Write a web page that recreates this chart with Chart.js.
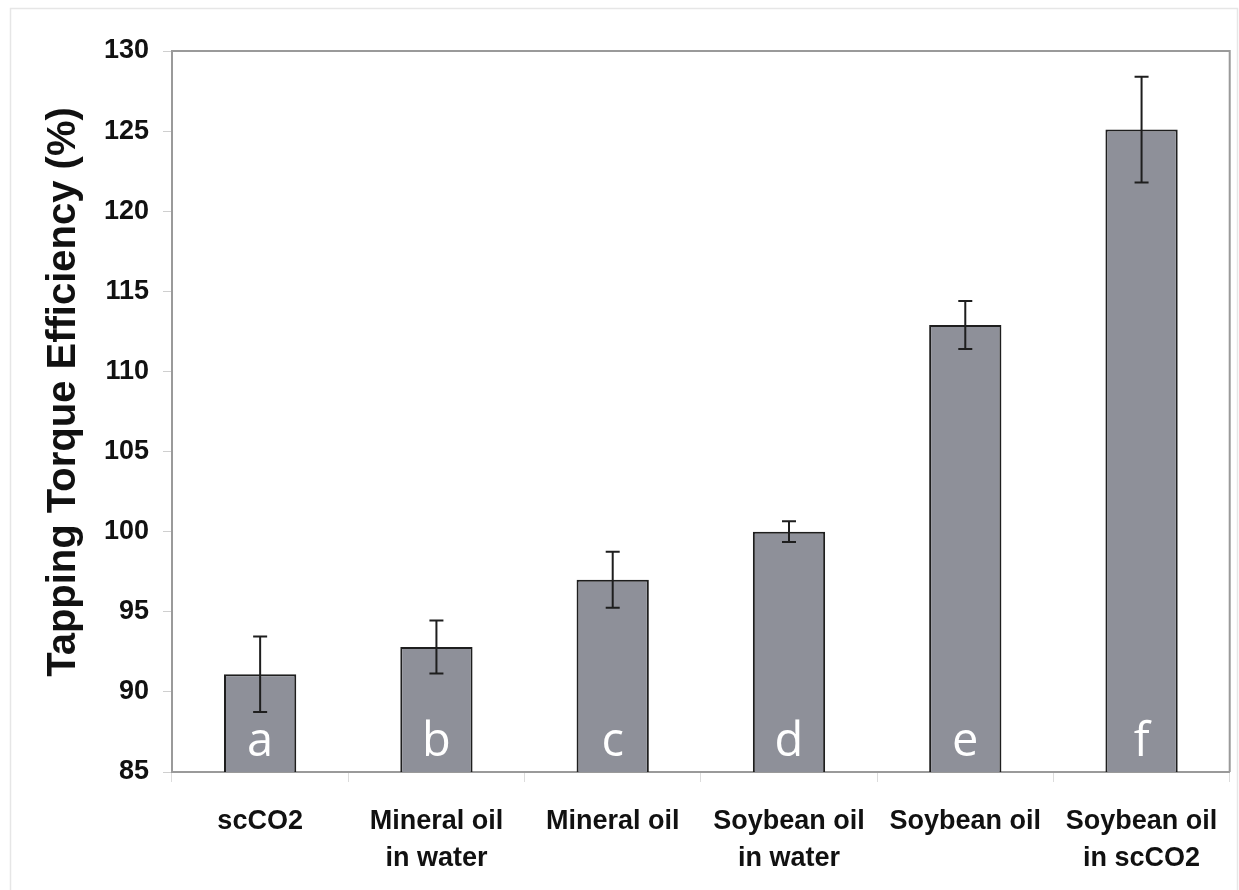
<!DOCTYPE html>
<html>
<head>
<meta charset="utf-8">
<script src="https://cdn.jsdelivr.net/npm/chart.js@4/dist/chart.umd.min.js"></script>
<style>
  html, body { margin: 0; padding: 0; background: #fff; }
  #wrap { width: 1239px; height: 890px; position: relative; }
</style>
</head>
<body>
<div id="wrap"><canvas id="torqueChart" width="1239" height="890"></canvas></div>
<script>
// data
const categories = [
    ["scCO2"],
    ["Mineral oil", "in water"],
    ["Mineral oil"],
    ["Soybean oil", "in water"],
    ["Soybean oil"],
    ["Soybean oil", "in scCO2"]
];
const efficiency = [91.1, 92.8, 97.0, 100.0, 112.9, 125.1];
const errorBars = [2.35, 1.65, 1.75, 0.65, 1.5, 3.3];
const groupLetters = ["a", "b", "c", "d", "e", "f"];
const yTicks = [85, 90, 95, 100, 105, 110, 115, 120, 125, 130];
const yTitle = "Tapping Torque Efficiency (%)";

/* frame around the figure, y title, top/right border of plot area */
const framePlugin = {
    id: "frame",
    beforeDraw(chart) {
        const { ctx } = chart;
        ctx.save();
        ctx.strokeStyle = "#e6e6e6";
        ctx.lineWidth = 1.5;
        ctx.strokeRect(10.5, 8.5, 1227, 900);
        ctx.restore();
    },
    afterDraw(chart) {
        const { ctx, chartArea: a } = chart;
        ctx.save();
        ctx.strokeStyle = "#9a9a9a";
        ctx.lineWidth = 2;
        ctx.beginPath();
        ctx.moveTo(a.left, a.top);
        ctx.lineTo(a.right, a.top);
        ctx.lineTo(a.right, a.bottom);
        ctx.stroke();

        // axis title, sits a bit above the plot's middle like the original
        ctx.translate(64, 392);
        ctx.rotate(-Math.PI / 2);
        ctx.fillStyle = "#111";
        ctx.font = "bold 40px 'Liberation Sans', Arial";
        ctx.textAlign = "center";
        ctx.textBaseline = "middle";
        ctx.fillText(yTitle, 0, 0);
        ctx.restore();
    }
};

/* error bars and the white letters in the bars */
const errorPlugin = {
    id: "errors",
    afterDatasetsDraw(chart) {
        const { ctx, chartArea: a } = chart;
        const y = chart.scales.y;
        const bars = chart.getDatasetMeta(0).data;
        ctx.save();
        bars.forEach((bar, i) => {
            ctx.fillStyle = "#ffffff";
            ctx.font = "47px 'Open Sans'";
            ctx.textAlign = "center";
            ctx.textBaseline = "alphabetic";
            ctx.fillText(groupLetters[i], bar.x, a.bottom - 16);

            const hi = y.getPixelForValue(efficiency[i] + errorBars[i]);
            const lo = y.getPixelForValue(efficiency[i] - errorBars[i]);
            ctx.strokeStyle = "#1e1e1e";
            ctx.lineWidth = 2;
            ctx.beginPath();
            ctx.moveTo(bar.x, hi); ctx.lineTo(bar.x, lo);
            ctx.moveTo(bar.x - 7, hi); ctx.lineTo(bar.x + 7, hi);
            ctx.moveTo(bar.x - 7, lo); ctx.lineTo(bar.x + 7, lo);
            ctx.stroke();
        });
        ctx.restore();
    }
};

new Chart(document.getElementById("torqueChart"), {
    type: "bar",
    data: {
        labels: categories,
        datasets: [{
            data: efficiency,
            backgroundColor: "#8e9099",
            borderColor: "#1e1e1e",
            borderWidth: 2,
            borderSkipped: false,
            categoryPercentage: 1,
            barPercentage: 0.41
        }]
    },
    options: {
        responsive: false,
        animation: false,
        devicePixelRatio: 1,
        layout: { padding: { left: 10, top: 51, right: 8, bottom: 0 } },
        plugins: {
            legend: { display: false },
            tooltip: { enabled: false }
        },
        scales: {
            x: {
                offset: true,
                grid: {
                    offset: true,
                    drawOnChartArea: false,
                    drawTicks: true,
                    tickLength: 10,
                    color: "#dcdcdc"
                },
                border: { color: "#9a9a9a", width: 2 },
                ticks: {
                    color: "#111",
                    padding: 21,
                    maxRotation: 0,
                    autoSkip: false,
                    font: { family: "'Liberation Sans', Arial", size: 27, weight: "bold", lineHeight: 1.37 }
                },
                afterFit: s => { s.height = 118; }
            },
            y: {
                min: 85,
                max: 130,
                afterBuildTicks: s => { s.ticks = yTicks.map(v => ({ value: v })); },
                grid: {
                    drawOnChartArea: false,
                    drawTicks: true,
                    tickLength: 9,
                    color: "#cfcfcf"
                },
                border: { color: "#9a9a9a", width: 2 },
                ticks: {
                    color: "#111",
                    padding: 14,
                    font: { family: "'Liberation Sans', Arial", size: 27, weight: "bold" }
                },
                afterFit: s => { s.width = 162; }
            }
        }
    },
    plugins: [framePlugin, errorPlugin]
});
</script>
</body>
</html>
